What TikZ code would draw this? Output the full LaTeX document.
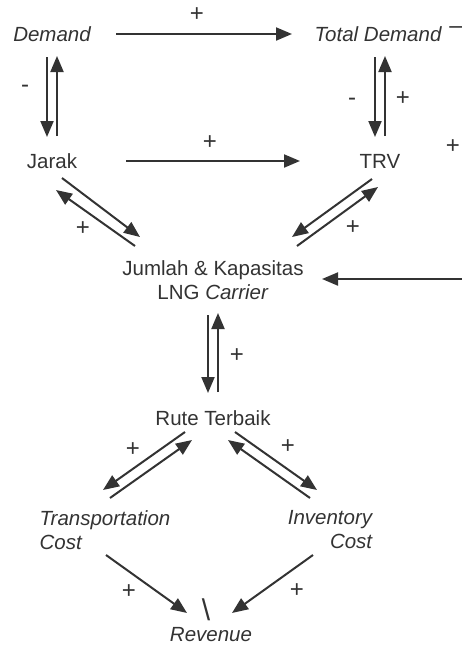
\documentclass[tikz,border=0pt]{standalone}
\usepackage{fontspec}
\setmainfont{Liberation Sans}
\usetikzlibrary{positioning, arrows.meta, calc}
\definecolor{ink}{HTML}{333333}

\begin{document}
\begin{tikzpicture}[
    x=1pt, y=-1pt,
    line/.style={draw=ink, line width=2pt, -{Triangle[length=16pt, width=13pt]}},
    var/.style={text=ink, inner sep=0pt},
    sgn/.style={text=ink, inner sep=0pt, font=\fontsize{24}{26}\selectfont},
    font=\fontsize{20.5}{24}\selectfont
  ]
    \useasboundingbox (0,0) rectangle (462,646);
    % variabel
    \node[var] (dem) at (52,34) {\itshape Demand};
    \node[var] (totdem) at (378,34) {\itshape Total Demand};
    \node[var] (jarak) at (52,161) {Jarak};
    \node[var] (trv) at (380,161) {TRV};
    \node[var, align=center] (jumlah) at (213,280) {Jumlah \& Kapasitas\\LNG \textit{Carrier}};
    \node[var] (rute) at (213,418) {Rute Terbaik};
    \node[var, align=left] (trans) at (105,530) {\itshape Transportation\\\itshape Cost};
    \node[var, align=right] (inv) at (330,530) {\itshape Inventory\\\itshape Cost};
    \node[var] (rev) at (211,635) {\itshape Revenue};
    \coordinate (ext) at (462,279);
    % Demand -> Total Demand, Jarak -> TRV
    \draw[line] ($(dem)+(64,0)$) -- ($(totdem)+(-86,0)$);
    \draw[line] ($(jarak)+(74,0)$) -- ($(trv)+(-80,0)$);
    % Demand <-> Jarak
    \draw[line] ($(dem)+(-5,23)$) -- ($(jarak)+(-5,-24)$);
    \draw[line] ($(jarak)+(5,-25)$) -- ($(dem)+(5,22)$);
    % Total Demand <-> TRV
    \draw[line] ($(totdem)+(-3,23)$) -- ($(trv)+(-5,-24)$);
    \draw[line] ($(trv)+(5,-25)$) -- ($(totdem)+(7,22)$);
    % Jarak <-> Jumlah
    \draw[line] ($(jarak)+(10,17)$) -- ($(jumlah)+(-73,-43)$);
    \draw[line] ($(jumlah)+(-78,-34)$) -- ($(jarak)+(4,29)$);
    % TRV <-> Jumlah
    \draw[line] ($(trv)+(-8,18)$) -- ($(jumlah)+(79,-43)$);
    \draw[line] ($(jumlah)+(84,-34)$) -- ($(trv)+(-2,26)$);
    % masuk dari kanan
    \draw[line] (ext) -- ($(jumlah)+(109,-1)$);
    % Jumlah <-> Rute
    \draw[line] ($(jumlah)+(-5,35)$) -- ($(rute)+(-5,-25)$);
    \draw[line] ($(rute)+(5,-26)$) -- ($(jumlah)+(5,33)$);
    % Rute <-> Transportation / Inventory
    \draw[line] ($(rute)+(-28,14)$) -- ($(trans)+(-2,-40)$);
    \draw[line] ($(trans)+(5,-32)$) -- ($(rute)+(-21,22)$);
    \draw[line] ($(rute)+(22,14)$) -- ($(inv)+(-13,-40)$);
    \draw[line] ($(inv)+(-20,-32)$) -- ($(rute)+(15,22)$);
    % biaya -> Revenue
    \draw[line] ($(trans)+(1,25)$) -- ($(rev)+(-24,-22)$);
    \draw[line] ($(inv)+(-17,25)$) -- ($(rev)+(21,-22)$);
    % tanda polaritas
    \node[sgn] (p1) at (197,15) {+};
    \node[sgn] (m1) at (25,89) {-};
    \node[sgn] (m2) at (352,102) {-};
    \node[sgn] (p2) at (403,99) {+};
    \node[sgn] (m3) at (456,30) {–};
    \node[sgn] (p3) at (210,143) {+};
    \node[sgn] (p4) at (453,147) {+};
    \node[sgn] (p5) at (83,229) {+};
    \node[sgn] (p6) at (353,228) {+};
    \node[sgn] (p7) at (237,356) {+};
    \node[sgn] (p8) at (133,450) {+};
    \node[sgn] (p9) at (288,447) {+};
    \node[sgn] (p10) at (129,592) {+};
    \node[sgn] (p11) at (297,591) {+};
    \node[sgn, font=\fontsize{30}{32}\selectfont] (bs) at (206,610) {\textbackslash};
  \end{tikzpicture}
\end{document}
